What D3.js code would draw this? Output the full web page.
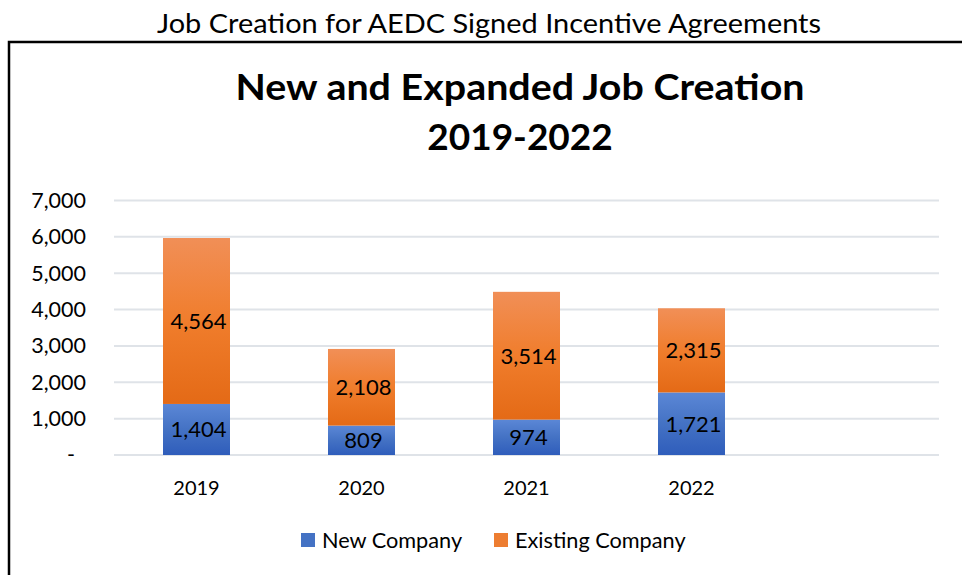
<!DOCTYPE html>
<html>
<head>
<meta charset="utf-8">
<script src="https://cdn.jsdelivr.net/npm/d3@7"></script>
<style>
  html, body { margin: 0; padding: 0; background: #fff; }
  svg { display: block; font-family: Lato, "Open Sans", sans-serif; }
</style>
</head>
<body>
<svg id="chart" width="962" height="575"></svg>
<script>
// Job counts per year, split by company type
const years = ["2019", "2020", "2021", "2022"];
const newCompany = [1404, 809, 974, 1721];
const existingCompany = [4564, 2108, 3514, 2315];
const seriesNames = ["New Company", "Existing Company"];
const yTicks = [0, 1000, 2000, 3000, 4000, 5000, 6000, 7000];

const svg = d3.select("#chart");
const W = 962, H = 575;

// Gradients for the bar fills
const defs = svg.append("defs");
const grads = [
  { id: "gNew", stops: ["#5b87d6", "#4472c4", "#2f5dbb"] },
  { id: "gExist", stops: ["#f18f57", "#f07d2c", "#e46a16"] }
];
grads.forEach(g => {
  const lg = defs.append("linearGradient").attr("id", g.id)
    .attr("x1", 0).attr("y1", 0).attr("x2", 0).attr("y2", 1);
  g.stops.forEach((c, i) => lg.append("stop")
    .attr("offset", i / (g.stops.length - 1)).attr("stop-color", c));
});

// Page heading
svg.append("text").attr("x", 489).attr("y", 33)
  .attr("text-anchor", "middle").attr("font-size", 27.5)
  .attr("textLength", 664).attr("lengthAdjust", "spacingAndGlyphs")
  .attr("fill", "#000").text("Job Creation for AEDC Signed Incentive Agreements");

// Frame around the chart (left and top edges visible)
svg.append("path").attr("d", `M9,${H} V42 H${W}`)
  .attr("fill", "none").attr("stroke", "#000").attr("stroke-width", 2.5);

// Chart title
svg.append("text").attr("x", 520).attr("y", 100)
  .attr("text-anchor", "middle").attr("font-size", 37).attr("font-weight", "bold")
  .attr("textLength", 569).attr("lengthAdjust", "spacingAndGlyphs")
  .text("New and Expanded Job Creation");
svg.append("text").attr("x", 520).attr("y", 150)
  .attr("text-anchor", "middle").attr("font-size", 37).attr("font-weight", "bold")
  .text("2019-2022");

// Scales: an extra empty slot after the last year
const domain = years.concat([""]);
const x = d3.scaleBand().domain(domain).range([114, 939])
  .paddingInner(0.594).paddingOuter(0.297);
const y = d3.scaleLinear().domain([0, 7000]).range([455, 200.5]);

// Gridlines
svg.append("g").selectAll("line").data(yTicks).join("line")
  .attr("x1", 114).attr("x2", 939)
  .attr("y1", d => y(d)).attr("y2", d => y(d))
  .attr("stroke", "#dfe3e8").attr("stroke-width", 2);

// Y axis labels
const yAxis = d3.axisLeft(y).tickValues(yTicks).tickSize(0).tickPadding(0)
  .tickFormat(d => d === 0 ? "-" : d3.format(",")(d));
const gy = svg.append("g").attr("transform", "translate(86,0)").call(yAxis);
gy.select(".domain").remove();
gy.selectAll("text").attr("font-size", 21.5).attr("fill", "#000")
  .attr("font-family", "Lato, sans-serif")
  .attr("dx", d => d === 0 ? -11 : 0);

// X axis labels
const xAxis = d3.axisBottom(x).tickSize(0).tickPadding(0);
const gx = svg.append("g").attr("transform", "translate(0,481)").call(xAxis);
gx.select(".domain").remove();
gx.selectAll("text").attr("font-size", 20).attr("fill", "#000")
  .attr("font-family", "Lato, sans-serif");

// Stacked bars
const rows = years.map((yr, i) => ({ year: yr, "New Company": newCompany[i], "Existing Company": existingCompany[i] }));
const stacked = d3.stack().keys(seriesNames)(rows);
const fills = { "New Company": "url(#gNew)", "Existing Company": "url(#gExist)" };

const layers = svg.append("g").selectAll("g").data(stacked).join("g")
  .attr("fill", d => fills[d.key]);
layers.selectAll("rect").data(d => d).join("rect")
  .attr("x", d => x(d.data.year)).attr("width", x.bandwidth())
  .attr("y", d => y(d[1])).attr("height", d => y(d[0]) - y(d[1]));

// Value labels centered in each segment
layers.selectAll("text").data(d => d.map(v => ({ v, key: d.key }))).join("text")
  .attr("x", d => x(d.v.data.year) + x.bandwidth() / 2 + 2)
  .attr("y", d => (y(d.v[0]) + y(d.v[1])) / 2)
  .attr("dy", "0.36em").attr("text-anchor", "middle")
  .attr("font-size", 22).attr("fill", "#000")
  .text(d => d3.format(",")(d.v.data[d.key]));

// Legend
const legendColors = ["#4472c4", "#ed7d31"];
const legendX = [301, 494];
const lg = svg.append("g").selectAll("g").data(seriesNames).join("g")
  .attr("transform", (d, i) => `translate(${legendX[i]},533)`);
lg.append("rect").attr("width", 14).attr("height", 14)
  .attr("fill", (d, i) => legendColors[i]);
lg.append("text").attr("x", 21).attr("y", 7).attr("dy", "0.36em")
  .attr("font-size", 21.7).attr("fill", "#000").text(d => d);
</script>
</body>
</html>
